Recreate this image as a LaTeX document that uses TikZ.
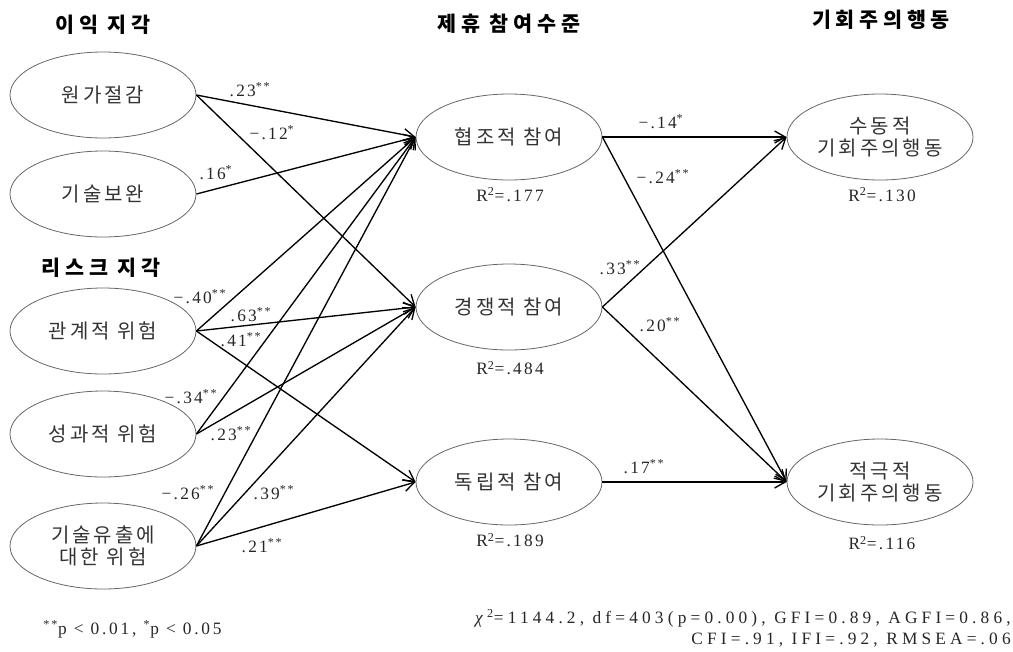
\documentclass[tikz,border=0pt]{standalone}
\usepackage{fontspec}
\setmainfont{Liberation Serif}
\newfontfamily\krfont[LetterSpace=15]{Noto Sans CJK KR}
\newfontfamily\krhead[LetterSpace=23]{Noto Sans CJK KR}
\newfontfamily\numfont[LetterSpace=13]{Liberation Serif}
\newfontfamily\notefont[LetterSpace=16]{Liberation Serif}
\newfontfamily\fitfont[LetterSpace=24]{Liberation Serif}
\usetikzlibrary{shapes.geometric,arrows.meta}
\begin{document}
\begin{tikzpicture}[x=0.75pt,y=-0.75pt,
  latent/.style={ellipse,draw=black!60,line width=0.6pt,minimum width=139.5pt,minimum height=64.5pt,inner sep=0pt,align=center,font={\krfont\fontsize{15}{16.5}\selectfont},text=black!80},
  pathar/.style={line width=1pt,-{Straight Barb[length=8pt,width=9pt]}},
  coef/.style={font={\numfont\fontsize{13}{15.75}\selectfont},inner sep=0pt,text=black!85},
  note/.style={font={\notefont\fontsize{13}{15.75}\selectfont},inner sep=0pt,text=black!85},
  fit/.style={font={\fitfont\fontsize{13}{15.75}\selectfont},inner sep=0pt,text=black!85},
  hdr/.style={font={\krhead\bfseries\fontsize{15.5}{17}\selectfont},inner sep=0pt}]
\useasboundingbox (0,0) rectangle (1013,651);
% headers
\node[hdr] (h1) at (103,25) {이익 지각};
\node[hdr] (h2) at (101,268) {리스크 지각};
\node[hdr] (h3) at (509,24) {제휴 참여수준};
\node[hdr] (h4) at (881,20) {기회주의행동};
% latent variables
\node[latent] (cost) at (103,95) {원가절감};
\node[latent] (tech) at (103,194) {기술보완};
\node[latent] (rel) at (103,331) {관계적 위험};
\node[latent] (perf) at (103,434) {성과적 위험};
\node[latent] (leak) at (103,546) {기술유출에\\대한 위험};
\node[latent] (coop) at (509,137) {협조적 참여};
\node[latent] (comp) at (509,307) {경쟁적 참여};
\node[latent] (ind) at (509,482) {독립적 참여};
\node[latent] (pas) at (880,137) {수동적\\기회주의행동};
\node[latent] (act) at (880,482) {적극적\\기회주의행동};
% R2
\node[coef] (r1) at (510,195) {R\textsuperscript{2}=.177};
\node[coef] (r2) at (510,368) {R\textsuperscript{2}=.484};
\node[coef] (r3) at (510,540) {R\textsuperscript{2}=.189};
\node[coef] (r4) at (882,195) {R\textsuperscript{2}=.130};
\node[coef] (r5) at (882,543) {R\textsuperscript{2}=.116};
% paths left
\draw[pathar] (cost.east) -- (coop.west);
\draw[pathar] (cost.east) -- (comp.west);
\draw[pathar] (tech.east) -- (coop.west);
\draw[pathar] (rel.east) -- (coop.west);
\draw[pathar] (rel.east) -- (comp.west);
\draw[pathar] (rel.east) -- (ind.west);
\draw[pathar] (perf.east) -- (coop.west);
\draw[pathar] (perf.east) -- (comp.west);
\draw[pathar] (leak.east) -- (coop.west);
\draw[pathar] (leak.east) -- (comp.west);
\draw[pathar] (leak.east) -- (ind.west);
% paths right
\draw[pathar] (coop.east) -- (pas.west);
\draw[pathar] (coop.east) -- (act.west);
\draw[pathar] (comp.east) -- (pas.west);
\draw[pathar] (comp.east) -- (act.west);
\draw[pathar] (ind.east) -- (act.west);
% coefficients
\node[coef] (c1) at (250,90) {.23\textsuperscript{**}};
\node[coef] (c2) at (272,133) {−.12\textsuperscript{*}};
\node[coef] (c3) at (216,173) {.16\textsuperscript{*}};
\node[coef] (c4) at (200,297) {−.40\textsuperscript{**}};
\node[coef] (c5) at (251,315) {.63\textsuperscript{**}};
\node[coef] (c6) at (241,340) {.41\textsuperscript{**}};
\node[coef] (c7) at (191,397) {−.34\textsuperscript{**}};
\node[coef] (c8) at (231,434) {.23\textsuperscript{**}};
\node[coef] (c9) at (188,493) {−.26\textsuperscript{**}};
\node[coef] (c10) at (274,493) {.39\textsuperscript{**}};
\node[coef] (c11) at (262,546) {.21\textsuperscript{**}};
\node[coef] (c12) at (661,122) {−.14\textsuperscript{*}};
\node[coef] (c13) at (663,177) {−.24\textsuperscript{**}};
\node[coef] (c14) at (620,268) {.33\textsuperscript{**}};
\node[coef] (c15) at (660,325) {.20\textsuperscript{**}};
\node[coef] (c16) at (644,467) {.17\textsuperscript{**}};
% notes
\node[note,anchor=west] (sig) at (43,629) {\textsuperscript{**}p < 0.01, \textsuperscript{*}p < 0.05};
\node[fit,anchor=east,align=right] (fitline) at (1011,628.5) {\textit{χ}\textsuperscript{2}=1144.2, df=403(p=0.00), GFI=0.89, AGFI=0.86,\\CFI=.91, IFI=.92, RMSEA=.06};
\end{tikzpicture}
\end{document}
